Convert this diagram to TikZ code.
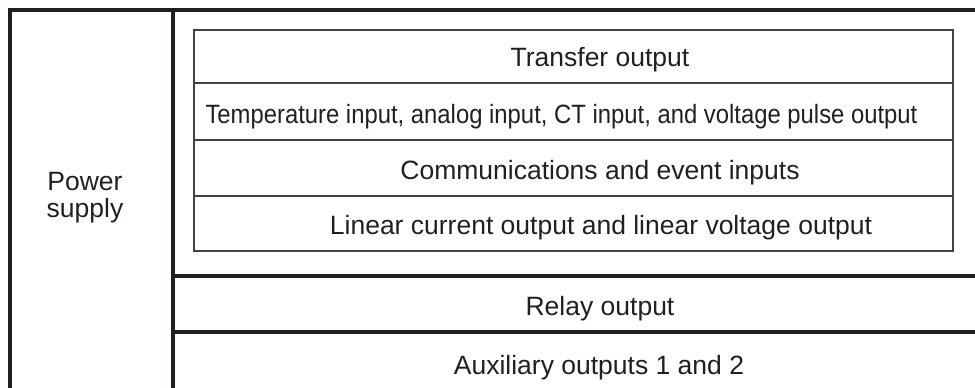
\documentclass[tikz,border=0pt]{standalone}
\usepackage{fontspec}
\setmainfont{Liberation Sans}
\definecolor{ink}{HTML}{231F20}
\begin{document}
\begin{tikzpicture}[x=1pt,y=-1pt,
  thickline/.style={line width=4.5pt,draw=ink},
  thinline/.style={line width=1.4pt,draw=ink!85},
  lbl/.style={font=\fontsize{26.5}{27}\selectfont,text=ink,inner sep=0pt,anchor=base}]
\useasboundingbox (0,0) rectangle (975,388);
% outer frame
\coordinate (tl) at (10,10);
\coordinate (tr) at (975,10);
\coordinate (bl) at (10,388);
\coordinate (dt) at (173,10);
\coordinate (db) at (173,388);
\draw[thickline] (bl) -- (tl) -- (tr);
\draw[thickline] (dt) -- (db);
\coordinate (r1l) at (173,276);
\coordinate (r1r) at (975,276);
\coordinate (r2l) at (173,332);
\coordinate (r2r) at (975,332);
\draw[thickline] (r1l) -- (r1r);
\draw[thickline] (r2l) -- (r2r);
% inner box
\draw[thinline] (194,30) rectangle (953,251);
\draw[thinline] (194,83) -- (953,83);
\draw[thinline] (194,140) -- (953,140);
\draw[thinline] (194,196) -- (953,196);
% labels
\node[lbl] (t1) at (600,66) {Transfer output};
\node[lbl] (t2) at (561.5,123) {\scalebox{0.9}[1]{Temperature input, analog input, CT input, and voltage pulse output}};
\node[lbl] (t3) at (600,179) {Communications and event inputs};
\node[lbl] (t4) at (601,234) {Linear current output and linear voltage output};
\node[lbl] (t5) at (600,315) {Relay output};
\node[lbl] (t6) at (599,374) {Auxiliary outputs 1 and 2};
\node[lbl] (ps1) at (85,190) {Power};
\node[lbl] (ps2) at (85,217) {supply};
\end{tikzpicture}
\end{document}
